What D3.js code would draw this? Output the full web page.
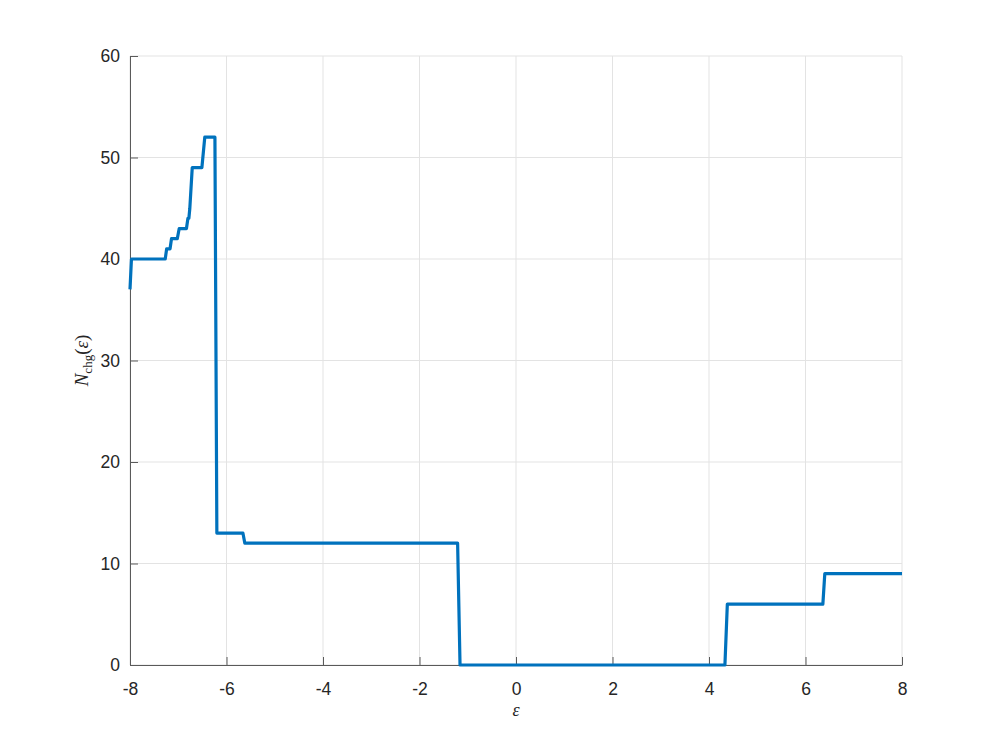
<!DOCTYPE html>
<html>
<head>
<meta charset="utf-8">
<script src="https://cdn.jsdelivr.net/npm/d3@7"></script>
<style>
  body { margin: 0; background: #fff; }
</style>
</head>
<body>
<script>
// step curve
const epsVals = [-8, -7.97, -7.27, -7.24, -7.17, -7.14, -7.02, -6.98, -6.83, -6.80, -6.78, -6.76, -6.71,
                 -6.51, -6.45, -6.24, -6.20, -5.66, -5.62, -1.21, -1.16, 4.33, 4.38, 6.36, 6.40, 8];
const nChg    = [37, 40, 40, 41, 41, 42, 42, 43, 43, 44, 44, 45, 49,
                 49, 52, 52, 13, 13, 12, 12, 0, 0, 6, 6, 9, 9];
const xTicks = [-8, -6, -4, -2, 0, 2, 4, 6, 8];
const yTicks = [0, 10, 20, 30, 40, 50, 60];

let width = 997;
let height = 747;
let margin = {top: 56, right: 95, bottom: 82, left: 130};
let w = width - margin.left - margin.right;
let h = height - margin.top - margin.bottom;

let svg = d3.select("body").append("svg")
  .attr("width", width).attr("height", height);

let graph = svg.append("g")
  .attr("transform", "translate(" + margin.left + "," + margin.top + ")");

let xScale = d3.scaleLinear().domain([-8, 8]).range([0, w]);
let yScale = d3.scaleLinear().domain([0, 60]).range([h, 0]);

// grid
graph.append("g").selectAll("line").data(xTicks).enter().append("line")
  .attr("x1", d => xScale(d)).attr("x2", d => xScale(d))
  .attr("y1", 0).attr("y2", h)
  .style("stroke", "#e3e3e3").style("stroke-width", 1);
graph.append("g").selectAll("line").data(yTicks).enter().append("line")
  .attr("x1", 0).attr("x2", w)
  .attr("y1", d => yScale(d)).attr("y2", d => yScale(d))
  .style("stroke", "#e3e3e3").style("stroke-width", 1);

// axes, ticks pointing inward, plain hyphen for negatives
let fmt = function(d) { return String(d); };
let xAxis = d3.axisBottom(xScale).tickValues(xTicks).tickFormat(fmt)
  .tickSizeInner(-8).tickSizeOuter(0).tickPadding(18);
let yAxis = d3.axisLeft(yScale).tickValues(yTicks).tickFormat(fmt)
  .tickSizeInner(-8).tickSizeOuter(0).tickPadding(18);

let gx = graph.append("g").attr("transform", "translate(0," + h + ")").call(xAxis);
let gy = graph.append("g").call(yAxis);

[gx, gy].forEach(function(g) {
  g.select(".domain").style("stroke", "#5a5a5a").style("stroke-width", 1);
  g.selectAll(".tick line").style("stroke", "#5a5a5a").style("stroke-width", 1);
  g.selectAll("text")
    .style("font-family", "'Liberation Sans', Arial, sans-serif")
    .style("font-size", "17.5px")
    .style("fill", "#262626");
});
gy.selectAll("text").attr("x", -10);

// curve
let line = d3.line()
  .x(function(d, i) { return xScale(epsVals[i]); })
  .y(function(d) { return yScale(d); });

graph.append("path")
  .datum(nChg)
  .attr("d", line)
  .style("fill", "none")
  .style("stroke", "#0072BD")
  .style("stroke-width", 3.2)
  .style("stroke-linejoin", "round");

// labels
svg.append("text")
  .attr("x", margin.left + w / 2)
  .attr("y", 716)
  .attr("text-anchor", "middle")
  .style("font-family", "'Liberation Serif', 'DejaVu Serif', serif")
  .style("font-style", "italic")
  .style("font-size", "18px")
  .style("fill", "#262626")
  .text("ε");

let yl = svg.append("text")
  .attr("transform", "translate(88," + (margin.top + h / 2) + ") rotate(-90)")
  .attr("text-anchor", "middle")
  .style("font-family", "'Liberation Serif', 'DejaVu Serif', serif")
  .style("font-size", "19px")
  .style("fill", "#262626");
yl.append("tspan").style("font-style", "italic").text("N");
yl.append("tspan").attr("dy", 4).style("font-size", "13px").text("chg");
yl.append("tspan").attr("dy", -4).text("(");
yl.append("tspan").style("font-style", "italic").text("ε");
yl.append("tspan").text(")");
</script>
</body>
</html>
